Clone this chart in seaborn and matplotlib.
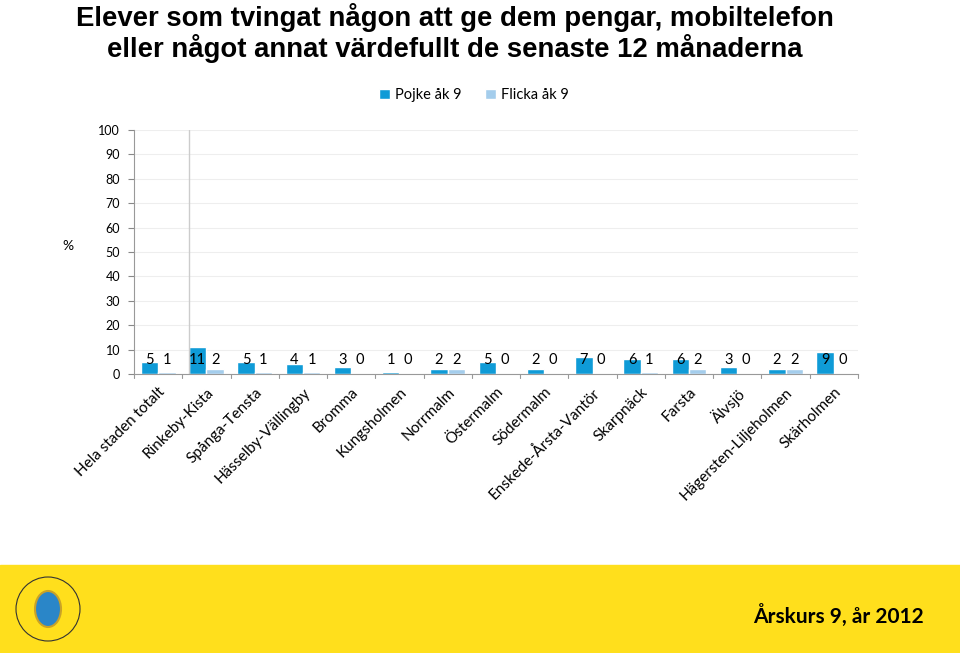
import pandas as pd
import matplotlib.pyplot as plt
import seaborn as sns
from matplotlib.patches import Ellipse

stadsdelar = ["Hela staden totalt", "Rinkeby-Kista", "Spånga-Tensta", "Hässelby-Vällingby",
              "Bromma", "Kungsholmen", "Norrmalm", "Östermalm", "Södermalm",
              "Enskede-Årsta-Vantör", "Skarpnäck", "Farsta", "Älvsjö",
              "Hägersten-Liljeholmen", "Skärholmen"]
pojke = [5, 11, 5, 4, 3, 1, 2, 5, 2, 7, 6, 6, 3, 2, 9]
flicka = [1, 2, 1, 1, 0, 0, 2, 0, 0, 0, 1, 2, 0, 2, 0]
serier = ["Pojke åk 9", "Flicka åk 9"]

df = pd.DataFrame({
    "Stadsdel": stadsdelar * 2,
    "Andel": pojke + flicka,
    "Grupp": [serier[0]] * len(pojke) + [serier[1]] * len(flicka),
})

sns.set_style("white")
plt.rcParams["font.family"] = ["Lato", "DejaVu Sans"]
plt.rcParams["text.color"] = "black"
plt.rcParams["xtick.color"] = "black"
plt.rcParams["ytick.color"] = "black"
plt.rcParams["axes.labelcolor"] = "black"

fig = plt.figure(figsize=(9.6, 6.53), dpi=100)
ax = fig.add_axes([134 / 960, 1 - 374 / 653, (858 - 134) / 960, (374 - 130) / 653])

sns.barplot(data=df, x="Stadsdel", y="Andel", hue="Grupp", palette=["#0f9bd7", "#a4cdec"],
            saturation=1, width=0.72, gap=0, ax=ax, legend=True)

# value labels sit at a fixed height next to each bar
for cont in ax.containers:
    for bar, val in zip(cont.patches, cont.datavalues):
        ax.text(bar.get_x() + bar.get_width() / 2, 5.6, f"{val:g}", ha="center", va="center",
                fontsize=10.5, color="black")

ax.set_ylim(0, 100)
ax.set_xlim(-0.5, len(stadsdelar) - 0.5)
ax.set_yticks(range(0, 101, 10))
ax.tick_params(axis="y", labelsize=9, length=4, color="#888888", direction="out", left=True, pad=6)
ax.tick_params(axis="x", labelsize=11, length=0, pad=8)
ax.set_xticks(range(len(stadsdelar)))
ax.set_xticklabels(stadsdelar, rotation=45, ha="right", rotation_mode="anchor")
ax.set_xlabel("")
ax.set_ylabel("%", rotation=0, fontsize=10, labelpad=22)
ax.grid(axis="y", color="#eeeeee", lw=0.8)
ax.set_axisbelow(True)
for s in ["top", "right"]:
    ax.spines[s].set_visible(False)
ax.spines["left"].set_color("#999999")
ax.spines["bottom"].set_color("#999999")
for i in range(len(stadsdelar) + 1):
    ax.plot([i - 0.5, i - 0.5], [0, -1.6], color="#999999", lw=0.8, clip_on=False)
ax.axvline(0.63, color="#cccccc", lw=1)

ax.legend(loc="lower center", bbox_to_anchor=(0.47, 1.06), ncol=2, frameon=False,
          fontsize=10.5, handlelength=0.7, handleheight=0.7, columnspacing=1.6, handletextpad=0.4)

fig.text(0.474, 0.996, "Elever som tvingat någon att ge dem pengar, mobiltelefon\neller något annat värdefullt de senaste 12 månaderna",
         ha="center", va="top", fontsize=19.8, fontweight="bold", family="Liberation Sans",
         linespacing=1.12)

# yellow footer band
fig.patches.append(plt.Rectangle((0, 0), 1, 88 / 653, transform=fig.transFigure,
                                 color="#ffdf1c", zorder=0))
fig.text(0.962, 0.057, "Årskurs 9, år 2012", ha="right", va="center", fontsize=15,
         fontweight="bold")
fig.patches.append(Ellipse((48 / 960, 44 / 653), 64 / 960, 64 / 653, transform=fig.transFigure,
                           facecolor="none", edgecolor="#333333", lw=0.8))
fig.patches.append(Ellipse((48 / 960, 44 / 653), 26 / 960, 36 / 653, transform=fig.transFigure,
                           facecolor="#2a86c8", edgecolor="#c9a227", lw=1.5))

fig.savefig("out.png", dpi=100)
